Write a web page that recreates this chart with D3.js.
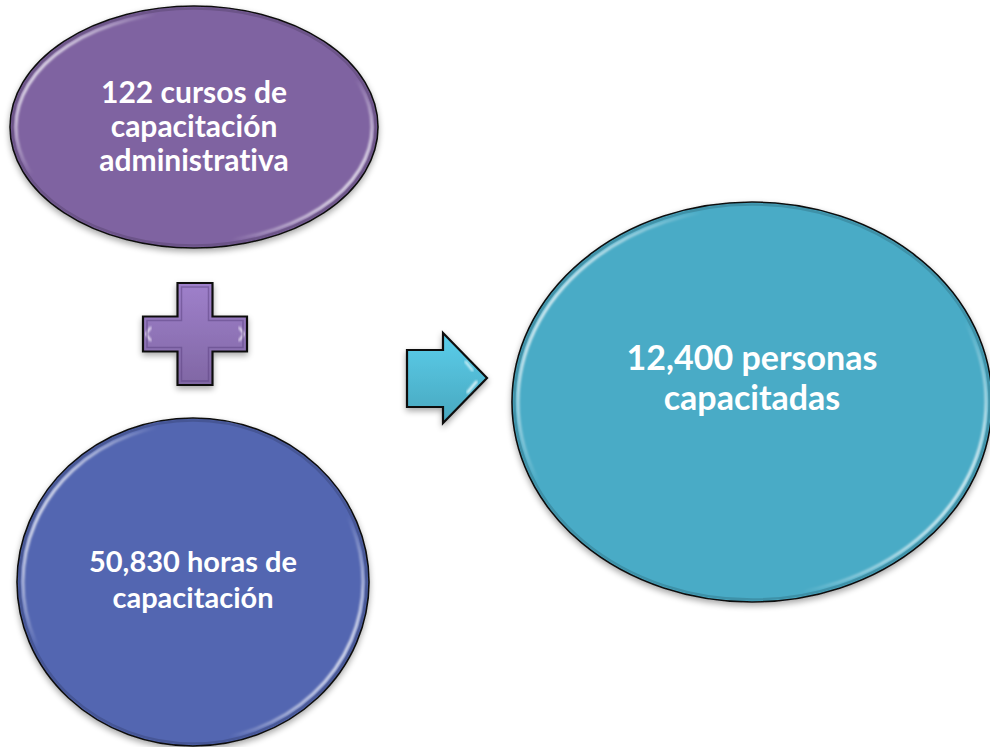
<!DOCTYPE html>
<html>
<head>
<meta charset="utf-8">
<script src="https://cdn.jsdelivr.net/npm/d3@7"></script>
<style>
  html, body { margin: 0; padding: 0; background: #fff; }
  svg { display: block; }
  text { font-variant-ligatures: none; }
</style>
</head>
<body>
<div id="chart"></div>
<script>
// datos del diagrama
const nodeNames = ["cursos", "horas", "personas"];
const nodeLines = [
  ["122 cursos de", "capacitación", "administrativa"],
  ["50,830 horas de", "capacitación"],
  ["12,400 personas", "capacitadas"]
];
const nodeColors = ["#7f63a1", "#5366b1", "#4aabc6"];
const symbolNames = ["plus", "arrow"];
const symbolColors = ["#8a6fb0", "#4eb3cc"];

// posiciones (layout)
const W = 990, H = 747;
const layout = {
  cursos:   { cx: 194, cy: 127, rx: 184, ry: 121, fs: 30, lh: 34, ty: 126 },
  horas:    { cx: 193, cy: 582, rx: 176, ry: 164, fs: 29, lh: 36, ty: 580 },
  personas: { cx: 752, cy: 402, rx: 240, ry: 200, fs: 34, lh: 40, ty: 378 }
};

const svg = d3.select("#chart").append("svg")
  .attr("width", W)
  .attr("height", H);

const defs = svg.append("defs");

// sombra suave
const shadow = defs.append("filter").attr("id", "shadow")
  .attr("x", "-10%").attr("y", "-10%").attr("width", "120%").attr("height", "125%");
shadow.append("feGaussianBlur").attr("in", "SourceAlpha").attr("stdDeviation", 3);
shadow.append("feOffset").attr("dx", 0).attr("dy", 3).attr("result", "off");
shadow.append("feComponentTransfer").append("feFuncA").attr("type", "linear").attr("slope", 0.35);
const merge = shadow.append("feMerge");
merge.append("feMergeNode");
merge.append("feMergeNode").attr("in", "SourceGraphic");

const blur = defs.append("filter").attr("id", "soft");
blur.append("feGaussianBlur").attr("stdDeviation", 0.9);

// brillo del borde (izquierda arriba / derecha abajo)
const rim = defs.append("linearGradient").attr("id", "rim")
  .attr("x1", 0).attr("y1", 0.25).attr("x2", 1).attr("y2", 0.75);
[[0, 1], [0.22, 0], [0.78, 0], [1, 1]].forEach(s => {
  rim.append("stop").attr("offset", s[0]).attr("stop-color", "#fff").attr("stop-opacity", s[1]);
});

// nodos elípticos
const nodes = nodeNames.map((name, i) => Object.assign({ name, lines: nodeLines[i], color: nodeColors[i] }, layout[name]));

const g = svg.selectAll(".node")
  .data(nodes)
  .enter()
  .append("g")
  .attr("class", "node");

g.append("ellipse")
  .attr("cx", d => d.cx).attr("cy", d => d.cy)
  .attr("rx", d => d.rx).attr("ry", d => d.ry)
  .attr("fill", d => d.color)
  .attr("stroke", "#111")
  .attr("stroke-width", 1.6)
  .attr("filter", "url(#shadow)");

g.append("ellipse")
  .attr("cx", d => d.cx).attr("cy", d => d.cy)
  .attr("rx", d => d.rx - 6).attr("ry", d => d.ry - 6)
  .attr("fill", "none")
  .attr("stroke", "url(#rim)")
  .attr("stroke-width", 3)
  .attr("filter", "url(#soft)");

g.append("ellipse")
  .attr("cx", d => d.cx).attr("cy", d => d.cy)
  .attr("rx", d => d.rx - 2.5).attr("ry", d => d.ry - 2.5)
  .attr("fill", "none")
  .attr("stroke", "#000")
  .attr("stroke-opacity", 0.15)
  .attr("stroke-width", 2.5);

g.append("text")
  .attr("text-anchor", "middle")
  .attr("fill", "#fff")
  .attr("font-family", "Lato, 'Open Sans', sans-serif")
  .attr("font-weight", "bold")
  .attr("font-size", d => d.fs)
  .each(function (d) {
    const n = d.lines.length;
    d3.select(this).selectAll("tspan")
      .data(d.lines)
      .enter()
      .append("tspan")
      .attr("x", d.cx)
      .attr("y", (t, i) => d.ty + (i - (n - 1) / 2) * d.lh + d.fs * 0.35)
      .text(t => t);
  });

// símbolos: cruz y flecha
const symLayout = {
  plus:  { x: 143, y: 283, w: 104, h: 102, t: 35 },
  arrow: { x: 407, y: 333, w: 80, h: 90, sTop: 350, sBot: 407, hx: 443 }
};

function symbolPoints(name) {
  const s = symLayout[name];
  if (name === "plus") {
    const cx = s.x + s.w / 2, cy = s.y + s.h / 2, h = s.t / 2;
    return [
      [cx - h, s.y], [cx + h, s.y], [cx + h, cy - h], [s.x + s.w, cy - h],
      [s.x + s.w, cy + h], [cx + h, cy + h], [cx + h, s.y + s.h], [cx - h, s.y + s.h],
      [cx - h, cy + h], [s.x, cy + h], [s.x, cy - h], [cx - h, cy - h]
    ];
  }
  const ty = s.y + s.h / 2;
  return [
    [s.x, s.sTop], [s.hx, s.sTop], [s.hx, s.y], [s.x + s.w, ty],
    [s.hx, s.y + s.h], [s.hx, s.sBot], [s.x, s.sBot]
  ];
}

symbolNames.forEach((name, i) => {
  const grad = defs.append("linearGradient").attr("id", "sym" + i)
    .attr("x1", 0).attr("y1", 0).attr("x2", 0).attr("y2", 1);
  grad.append("stop").attr("offset", 0).attr("stop-color", d3.color(symbolColors[i]).brighter(0.4));
  grad.append("stop").attr("offset", 1).attr("stop-color", d3.color(symbolColors[i]).darker(0.2));

  const pts = symbolPoints(name);
  const sg = svg.append("g").attr("filter", "url(#shadow)");
  sg.append("path")
    .attr("d", d3.line()(pts) + "Z")
    .attr("fill", "url(#sym" + i + ")")
    .attr("stroke", "#111")
    .attr("stroke-width", 2.2)
    .attr("stroke-linejoin", "miter");

  // bisel interior
  const s = symLayout[name];
  if (name === "plus") {
    const cx = s.x + s.w / 2, cy = s.y + s.h / 2, h = s.t / 2;
    [[cx - 5, s.y + 8, cx - 5, s.y + s.h - 8], [cx + 3, s.y + 8, cx + 3, s.y + s.h - 8]].forEach(l => {
      sg.append("line").attr("x1", l[0]).attr("y1", l[1]).attr("x2", l[2]).attr("y2", l[3])
        .attr("stroke", "#f4eefc").attr("stroke-width", 2).attr("stroke-opacity", 0.85)
        .attr("filter", "url(#soft)");
    });
    sg.append("path")
      .attr("d", d3.line()([[s.x + 8, cy - 7], [s.x + 3, cy], [s.x + 8, cy + 7]]))
      .attr("fill", "none").attr("stroke", "#f4eefc").attr("stroke-width", 2).attr("filter", "url(#soft)");
    sg.append("path")
      .attr("d", d3.line()([[s.x + s.w - 8, cy - 7], [s.x + s.w - 3, cy], [s.x + s.w - 8, cy + 7]]))
      .attr("fill", "none").attr("stroke", "#f4eefc").attr("stroke-width", 2).attr("filter", "url(#soft)");
    sg.append("path")
      .attr("d", d3.line()([[cx - h + 4, s.y + 4], [cx + h - 4, s.y + 4], [cx + h - 4, cy - h + 4], [s.x + s.w - 4, cy - h + 4], [s.x + s.w - 4, cy + h - 4], [cx + h - 4, cy + h - 4], [cx + h - 4, s.y + s.h - 4], [cx - h + 4, s.y + s.h - 4], [cx - h + 4, cy + h - 4], [s.x + 4, cy + h - 4], [s.x + 4, cy - h + 4], [cx - h + 4, cy - h + 4]]) + "Z")
      .attr("fill", "none").attr("stroke", "#5a4080").attr("stroke-opacity", 0.5).attr("stroke-width", 1.5);
  } else {
    sg.append("line").attr("x1", s.x + 7).attr("y1", s.sTop + 10).attr("x2", s.x + 7).attr("y2", s.sBot - 10)
      .attr("stroke", "#e8fbff").attr("stroke-width", 2).attr("filter", "url(#soft)");
    sg.append("line").attr("x1", s.hx + 22).attr("y1", s.y + 28).attr("x2", s.hx + 30).attr("y2", s.y + 38)
      .attr("stroke", "#e8fbff").attr("stroke-width", 2).attr("filter", "url(#soft)");
    sg.append("line").attr("x1", s.hx + 24).attr("y1", s.y + s.h - 30).attr("x2", s.hx + 34).attr("y2", s.y + s.h - 42)
      .attr("stroke", "#e8fbff").attr("stroke-width", 2.5).attr("filter", "url(#soft)");
  }
});
</script>
</body>
</html>
